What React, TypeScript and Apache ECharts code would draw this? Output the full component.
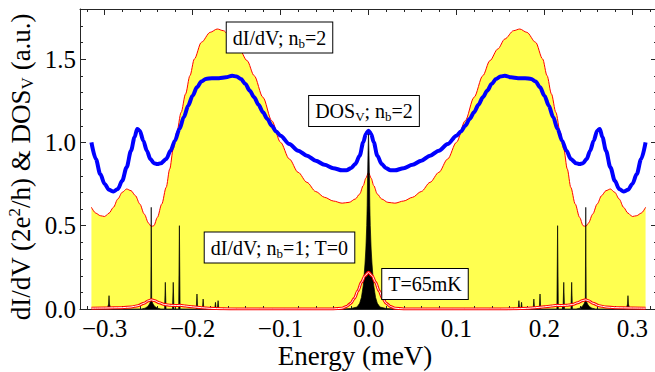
import React, { useEffect, useRef } from "react";
import * as echarts from "echarts";

const FONT = "'Liberation Serif', 'Times New Roman', serif";
const INK = "black";
const FRAME = "#262626";

// Tick values
const xMajorTicks = [-0.3, -0.2, -0.1, 0, 0.1, 0.2, 0.3];
const xMinorTicks = [-0.32, -0.28, -0.26, -0.24, -0.22, -0.18, -0.16, -0.14, -0.12, -0.08, -0.06, -0.04, -0.02,
  0.02, 0.04, 0.06, 0.08, 0.12, 0.14, 0.16, 0.18, 0.22, 0.24, 0.26, 0.28, 0.32];
const yMajorTicks = [0, 0.5, 1.0, 1.5];
const yMinorTicks = [0.1, 0.2, 0.3, 0.4, 0.6, 0.7, 0.8, 0.9, 1.1, 1.2, 1.3, 1.4, 1.6, 1.7];

// dI/dV; n_b = 2 (yellow filled, red outline)
const dIdV_nb2: [number, number][] = [
  [-0.315, 0.61], [-0.31, 0.575], [-0.305, 0.56], [-0.3, 0.555], [-0.295, 0.575], [-0.29, 0.61], [-0.285, 0.66],
  [-0.28, 0.7], [-0.275, 0.72], [-0.27, 0.71], [-0.265, 0.68], [-0.26, 0.63], [-0.255, 0.57], [-0.25, 0.515],
  [-0.247, 0.495], [-0.244, 0.5], [-0.24, 0.55], [-0.235, 0.63], [-0.23, 0.73], [-0.226, 0.84], [-0.222, 0.96],
  [-0.218, 1.06], [-0.213, 1.18], [-0.208, 1.29], [-0.203, 1.4], [-0.198, 1.5], [-0.19, 1.6], [-0.18, 1.66],
  [-0.172, 1.68], [-0.165, 1.67], [-0.155, 1.62], [-0.147, 1.56], [-0.138, 1.49], [-0.13, 1.4], [-0.12, 1.27],
  [-0.11, 1.13], [-0.1, 1.0], [-0.09, 0.9], [-0.08, 0.82], [-0.07, 0.76], [-0.06, 0.705], [-0.05, 0.67],
  [-0.04, 0.648], [-0.03, 0.635], [-0.022, 0.64], [-0.015, 0.66], [-0.01, 0.69], [-0.006, 0.74], [-0.003, 0.785],
  [0, 0.82],
  [0.003, 0.785], [0.006, 0.74], [0.01, 0.69], [0.015, 0.66], [0.022, 0.64], [0.03, 0.635], [0.04, 0.648],
  [0.05, 0.67], [0.06, 0.705], [0.07, 0.76], [0.08, 0.82], [0.09, 0.9], [0.1, 1.0], [0.11, 1.13], [0.12, 1.27],
  [0.13, 1.4], [0.138, 1.49], [0.147, 1.56], [0.155, 1.62], [0.165, 1.67], [0.172, 1.68], [0.18, 1.66],
  [0.19, 1.6], [0.198, 1.5], [0.203, 1.4], [0.208, 1.29], [0.213, 1.18], [0.218, 1.06], [0.222, 0.96],
  [0.226, 0.84], [0.23, 0.73], [0.235, 0.63], [0.24, 0.55], [0.244, 0.5], [0.247, 0.495], [0.25, 0.515],
  [0.255, 0.57], [0.26, 0.63], [0.265, 0.68], [0.27, 0.71], [0.275, 0.72], [0.28, 0.7], [0.285, 0.66],
  [0.29, 0.61], [0.295, 0.575], [0.3, 0.555], [0.305, 0.56], [0.31, 0.575], [0.315, 0.61],
];

// DOS_V; n_b = 2 (blue)
const dosV_nb2: [number, number][] = [
  [-0.315, 1.0], [-0.31, 0.9], [-0.305, 0.81], [-0.3, 0.75], [-0.295, 0.715], [-0.29, 0.705], [-0.285, 0.72],
  [-0.28, 0.77], [-0.275, 0.85], [-0.27, 0.95], [-0.266, 1.03], [-0.263, 1.08], [-0.26, 1.07], [-0.256, 1.01],
  [-0.252, 0.95], [-0.248, 0.9], [-0.244, 0.875], [-0.24, 0.87], [-0.236, 0.875], [-0.23, 0.9], [-0.225, 0.95],
  [-0.22, 1.01], [-0.215, 1.08], [-0.21, 1.15], [-0.205, 1.22], [-0.2, 1.28], [-0.195, 1.33], [-0.19, 1.365],
  [-0.185, 1.38], [-0.178, 1.385], [-0.17, 1.385], [-0.162, 1.39], [-0.155, 1.4], [-0.15, 1.395], [-0.145, 1.38],
  [-0.14, 1.35], [-0.135, 1.31], [-0.13, 1.27], [-0.125, 1.225], [-0.12, 1.18], [-0.115, 1.14], [-0.11, 1.1],
  [-0.105, 1.065], [-0.1, 1.04], [-0.09, 0.99], [-0.08, 0.95], [-0.07, 0.92], [-0.06, 0.89], [-0.05, 0.865],
  [-0.04, 0.845], [-0.03, 0.832], [-0.025, 0.832], [-0.02, 0.845], [-0.015, 0.87], [-0.01, 0.92], [-0.006, 1.0],
  [-0.003, 1.05], [0, 1.07],
  [0.003, 1.05], [0.006, 1.0], [0.01, 0.92], [0.015, 0.87], [0.02, 0.845], [0.025, 0.832], [0.03, 0.832],
  [0.04, 0.845], [0.05, 0.865], [0.06, 0.89], [0.07, 0.92], [0.08, 0.95], [0.09, 0.99], [0.1, 1.04],
  [0.105, 1.065], [0.11, 1.1], [0.115, 1.14], [0.12, 1.18], [0.125, 1.225], [0.13, 1.27], [0.135, 1.31],
  [0.14, 1.35], [0.145, 1.38], [0.15, 1.395], [0.155, 1.4], [0.162, 1.39], [0.17, 1.385], [0.178, 1.385],
  [0.185, 1.38], [0.19, 1.365], [0.195, 1.33], [0.2, 1.28], [0.205, 1.22], [0.21, 1.15], [0.215, 1.08],
  [0.22, 1.01], [0.225, 0.95], [0.23, 0.9], [0.236, 0.875], [0.24, 0.87], [0.244, 0.875], [0.248, 0.9],
  [0.252, 0.95], [0.256, 1.01], [0.26, 1.07], [0.263, 1.08], [0.266, 1.03], [0.27, 0.95], [0.275, 0.85],
  [0.28, 0.77], [0.285, 0.72], [0.29, 0.705], [0.295, 0.715], [0.3, 0.75], [0.305, 0.81], [0.31, 0.9],
  [0.315, 1.0],
];

// dI/dV; n_b = 1; T = 0 (black spikes)
const dIdV_nb1_T0: [number, number][] = [
  [-0.315, 0], [-0.298, 0], [-0.2965, 0.01], [-0.2955, 0.03], [-0.295, 0.08], [-0.2945, 0.03], [-0.2935, 0.01], [-0.292, 0],
  [-0.258, 0], [-0.254, 0.005], [-0.251, 0.015], [-0.249, 0.03], [-0.2475, 0.05], [-0.247, 0.61], [-0.2465, 0.05],
  [-0.245, 0.03], [-0.243, 0.015], [-0.24, 0.005], [-0.236, 0],
  [-0.2318, 0], [-0.231, 0.16], [-0.2302, 0],
  [-0.2228, 0], [-0.222, 0.16], [-0.2212, 0],
  [-0.2158, 0], [-0.215, 0.5], [-0.2142, 0],
  [-0.1958, 0], [-0.195, 0.09], [-0.1942, 0],
  [-0.1888, 0], [-0.188, 0.06], [-0.1872, 0],
  [-0.1748, 0], [-0.174, 0.04], [-0.1732, 0],
  [-0.1718, 0], [-0.171, 0.05], [-0.1702, 0],
  [-0.03, 0], [-0.02, 0.003], [-0.013, 0.012], [-0.01, 0.035], [-0.008, 0.07], [-0.006, 0.14], [-0.005, 0.2],
  [-0.004, 0.27], [-0.003, 0.36], [-0.002, 0.5], [-0.0015, 0.62], [-0.001, 0.8], [-0.0005, 0.95], [0, 1.05],
  [0.0005, 0.95], [0.001, 0.8], [0.0015, 0.62], [0.002, 0.5], [0.003, 0.36], [0.004, 0.27], [0.005, 0.2],
  [0.006, 0.14], [0.008, 0.07], [0.01, 0.035], [0.013, 0.012], [0.02, 0.003], [0.03, 0],
  [0.1702, 0], [0.171, 0.05], [0.1718, 0],
  [0.1732, 0], [0.174, 0.04], [0.1748, 0],
  [0.1872, 0], [0.188, 0.06], [0.1888, 0],
  [0.1942, 0], [0.195, 0.09], [0.1958, 0],
  [0.2142, 0], [0.215, 0.5], [0.2158, 0],
  [0.2212, 0], [0.222, 0.16], [0.2228, 0],
  [0.2302, 0], [0.231, 0.16], [0.2318, 0],
  [0.236, 0], [0.24, 0.005], [0.243, 0.015], [0.245, 0.03], [0.2465, 0.05], [0.247, 0.61], [0.2475, 0.05],
  [0.249, 0.03], [0.251, 0.015], [0.254, 0.005], [0.258, 0],
  [0.292, 0], [0.2935, 0.01], [0.2945, 0.03], [0.295, 0.08], [0.2955, 0.03], [0.2965, 0.01], [0.298, 0], [0.315, 0],
];

// dI/dV; n_b = 1; T = 65 mK
const dIdV_nb1_T65: [number, number][] = [
  [-0.315, 0.005], [-0.3, 0.006], [-0.29, 0.007], [-0.28, 0.008], [-0.27, 0.012], [-0.262, 0.02], [-0.255, 0.035],
  [-0.25, 0.05], [-0.247, 0.055], [-0.243, 0.05], [-0.238, 0.038], [-0.232, 0.027], [-0.225, 0.022], [-0.218, 0.021],
  [-0.214, 0.022], [-0.208, 0.018], [-0.2, 0.013], [-0.19, 0.008], [-0.18, 0.004], [-0.165, 0.001], [-0.15, 0],
  [-0.04, 0], [-0.03, 0.005], [-0.025, 0.015], [-0.02, 0.035], [-0.016, 0.065], [-0.012, 0.11], [-0.008, 0.16],
  [-0.004, 0.2], [0, 0.22],
  [0.004, 0.2], [0.008, 0.16], [0.012, 0.11], [0.016, 0.065], [0.02, 0.035], [0.025, 0.015], [0.03, 0.005],
  [0.04, 0], [0.15, 0], [0.165, 0.001], [0.18, 0.004], [0.19, 0.008], [0.2, 0.013], [0.208, 0.018], [0.214, 0.022],
  [0.218, 0.021], [0.225, 0.022], [0.232, 0.027], [0.238, 0.038], [0.243, 0.05], [0.247, 0.055], [0.25, 0.05],
  [0.255, 0.035], [0.262, 0.02], [0.27, 0.012], [0.28, 0.008], [0.29, 0.007], [0.3, 0.006], [0.315, 0.005],
];

const X_MIN = -0.328;
const X_MAX = 0.328;
const Y_MIN = 0;
const Y_MAX = 1.8;

const fmt = (v: number) => v.toFixed(1).replace("-", "\u2212");

function frameX(position: "top" | "bottom", labels: boolean): any {
  return {
    type: "value",
    position,
    min: X_MIN,
    max: X_MAX,
    axisLine: { show: true, onZero: false, lineStyle: { color: FRAME, width: 1 } },
    axisTick: { show: true, inside: true, length: 6, customValues: xMajorTicks, lineStyle: { color: FRAME, width: 1 } },
    splitLine: { show: false },
    axisLabel: labels
      ? { customValues: xMajorTicks, formatter: fmt, fontFamily: FONT, fontSize: 25, color: INK, margin: 7 }
      : { show: false },
  };
}

function frameY(position: "left" | "right", labels: boolean): any {
  return {
    type: "value",
    position,
    min: Y_MIN,
    max: Y_MAX,
    axisLine: { show: true, onZero: false, lineStyle: { color: FRAME, width: 1 } },
    axisTick: { show: true, inside: true, length: 6, customValues: yMajorTicks, lineStyle: { color: FRAME, width: 1 } },
    splitLine: { show: false },
    axisLabel: labels
      ? { customValues: yMajorTicks, formatter: fmt, fontFamily: FONT, fontSize: 25, color: INK, margin: 4 }
      : { show: false },
  };
}

// minor ticks on the frame, placed through the axes' scales
function xMinorSeries(bottom: boolean): any {
  return {
    type: "custom",
    data: xMinorTicks.map((v) => [v, bottom ? Y_MIN : Y_MAX]),
    renderItem: (_p: any, api: any) => {
      const c = api.coord([api.value(0), api.value(1)]);
      const x = Math.round(c[0]) + 0.5;
      const y = Math.round(c[1]);
      return {
        type: "line",
        shape: { x1: x, y1: y, x2: x, y2: bottom ? y - 3 : y + 3 },
        style: { stroke: FRAME, lineWidth: 1 },
      };
    },
  };
}

function yMinorSeries(left: boolean): any {
  return {
    type: "custom",
    data: yMinorTicks.map((v) => [left ? X_MIN : X_MAX, v]),
    renderItem: (_p: any, api: any) => {
      const c = api.coord([api.value(0), api.value(1)]);
      const x = Math.round(c[0]);
      const y = Math.round(c[1]) + 0.5;
      return {
        type: "line",
        shape: { x1: x, y1: y, x2: left ? x + 3 : x - 3, y2: y },
        style: { stroke: FRAME, lineWidth: 1 },
      };
    },
  };
}

function boxLabel(cx: number, cy: number, text: string): any {
  return {
    type: "text",
    x: cx,
    y: cy,
    z: 100,
    style: {
      text,
      align: "center",
      verticalAlign: "middle",
      fill: INK,
      backgroundColor: "white",
      borderColor: INK,
      borderWidth: 1,
      padding: [3, 6, 3, 6],
      rich: {
        a: { fontFamily: FONT, fontSize: 20, fill: INK, lineHeight: 24 },
        s: { fontFamily: FONT, fontSize: 13, fill: INK, verticalAlign: "bottom", lineHeight: 10 },
      },
    },
  };
}

export default function App() {
  const ref = useRef<HTMLDivElement>(null);
  useEffect(() => {
    if (!ref.current) return;
    const chart = echarts.init(ref.current, undefined, { renderer: "svg" });
    const option: any = {
      animation: false,
      grid: { left: 80, right: -2, top: 9, bottom: 63, outerBoundsMode: "none" },
      xAxis: [frameX("bottom", true), frameX("top", false)],
      yAxis: [frameY("left", true), frameY("right", false)],
      series: [
        {
          type: "line",
          data: dIdV_nb2,
          symbol: "none",
          smooth: 0.3,
          smoothMonotone: "x",
          lineStyle: { color: "red", width: 1 },
          areaStyle: { color: "#ffff50", opacity: 1 },
          z: 1,
        },
        {
          type: "line",
          data: dIdV_nb1_T0,
          symbol: "none",
          lineStyle: { color: INK, width: 0.7 },
          areaStyle: { color: INK, opacity: 1 },
          z: 2,
        },
        {
          type: "line",
          data: dIdV_nb1_T65,
          symbol: "none",
          smooth: 0.3,
          smoothMonotone: "x",
          lineStyle: { color: "red", width: 3 },
          z: 3,
        },
        {
          type: "line",
          data: dIdV_nb1_T65,
          symbol: "none",
          smooth: 0.3,
          smoothMonotone: "x",
          lineStyle: { color: "white", width: 1 },
          z: 4,
        },
        {
          type: "line",
          data: dosV_nb2,
          symbol: "none",
          smooth: 0.3,
          smoothMonotone: "x",
          lineStyle: { color: "blue", width: 4 },
          z: 5,
        },
        xMinorSeries(true),
        xMinorSeries(false),
        yMinorSeries(true),
        yMinorSeries(false),
      ],
      graphic: [
        boxLabel(279.5, 37.5, "{a|dI/dV; n}{s|b}{a|=2}"),
        boxLabel(364, 111, "{a|DOS}{s|V}{a|; n}{s|b}{a|=2}"),
        boxLabel(279.5, 247.5, "{a|dI/dV; n}{s|b}{a|=1; T=0}"),
        boxLabel(425, 284, "{a|T=65mK}"),
        {
          type: "text",
          x: 355,
          y: 356,
          style: { text: "Energy (meV)", align: "center", verticalAlign: "middle", fill: INK, fontFamily: FONT, fontSize: 27 },
        },
        {
          type: "text",
          x: 21,
          y: 167,
          rotation: Math.PI / 2,
          style: {
            text: "{a|dI/dV (2e}{sup|2}{a|/h) & DOS}{sub|V}{a| (a.u.)}",
            align: "center",
            verticalAlign: "middle",
            fill: INK,
            rich: {
              a: { fontFamily: FONT, fontSize: 27, fill: INK, lineHeight: 30 },
              sup: { fontFamily: FONT, fontSize: 17, fill: INK, verticalAlign: "top", lineHeight: 12 },
              sub: { fontFamily: FONT, fontSize: 17, fill: INK, verticalAlign: "bottom", lineHeight: 10 },
            },
          },
        },
      ],
    };
    chart.setOption(option);
    return () => chart.dispose();
  }, []);
  return (
    <div
      ref={ref}
      style={{ position: "fixed", left: 0, top: 0, width: 655, height: 372, background: "white" }}
    />
  );
}
